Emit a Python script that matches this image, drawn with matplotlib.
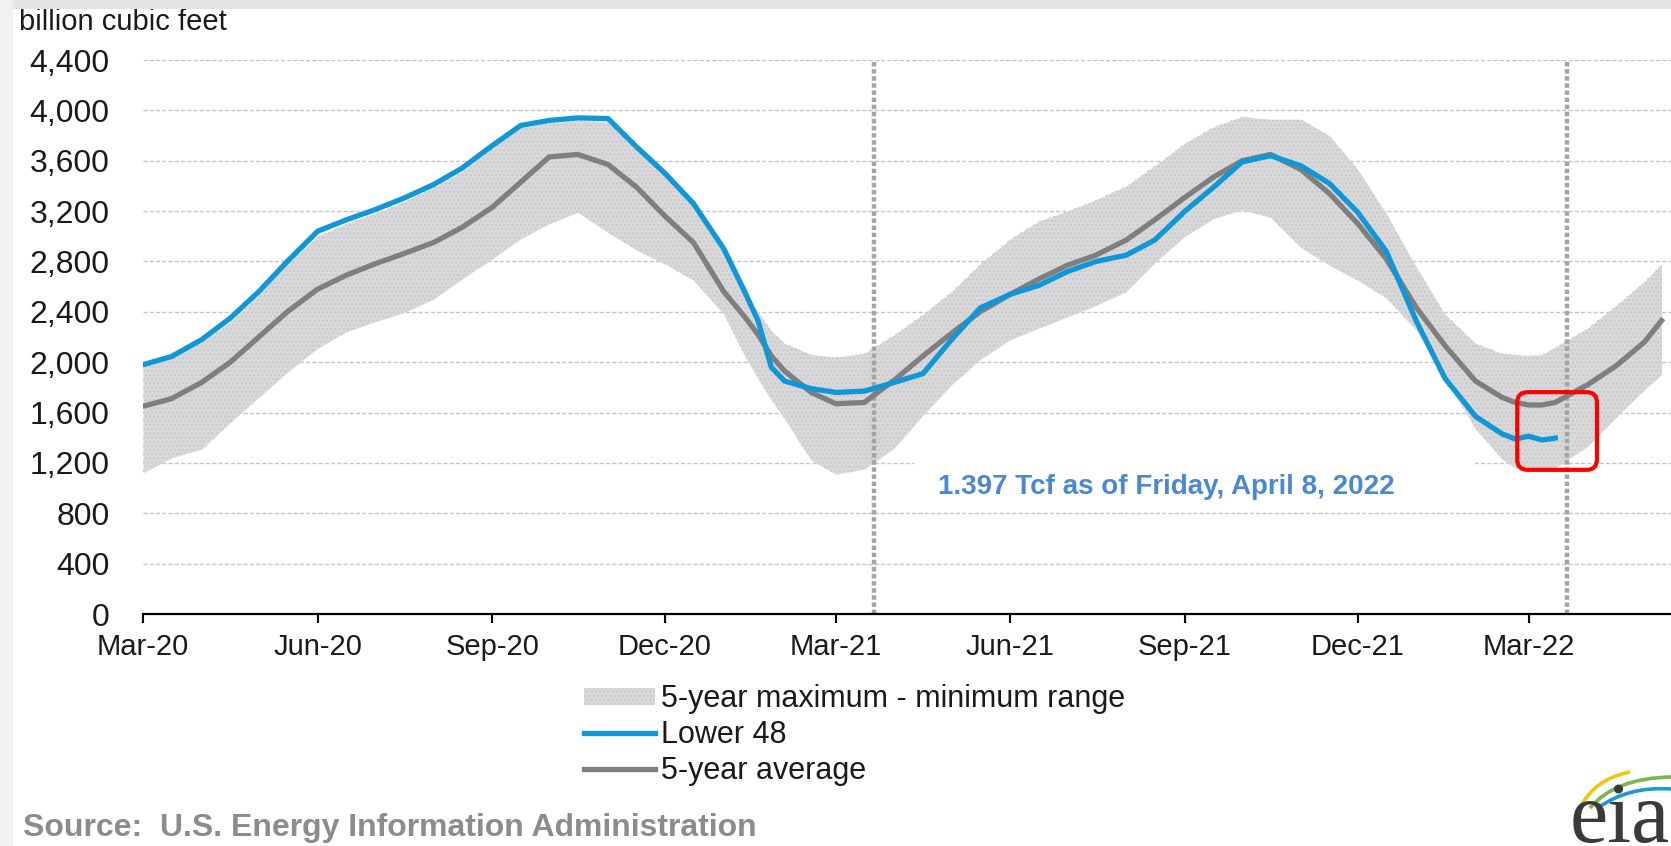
import matplotlib
matplotlib.use('Agg')
import numpy as np
import pandas as pd
import matplotlib.pyplot as plt
import matplotlib.dates as mdates
import matplotlib.ticker as mticker
from matplotlib.patches import Patch, FancyBboxPatch, Rectangle, PathPatch
from matplotlib.lines import Line2D
from matplotlib.path import Path

plt.rcParams['font.family'] = ['Liberation Sans', 'DejaVu Sans']

# weekly storage, billion cubic feet
dates = pd.to_datetime([
    '2020-03-25', '2020-04-09', '2020-04-25', '2020-05-10', '2020-05-25', '2020-06-09',
    '2020-06-25', '2020-07-10', '2020-07-25', '2020-08-09', '2020-08-25', '2020-09-09',
    '2020-09-25', '2020-10-10', '2020-10-25', '2020-11-09', '2020-11-25', '2020-12-10',
    '2020-12-25', '2021-01-09', '2021-01-25', '2021-02-05', '2021-02-12', '2021-02-19',
    '2021-02-26', '2021-03-12', '2021-03-25', '2021-04-09', '2021-04-25', '2021-05-10',
    '2021-05-25', '2021-06-09', '2021-06-25', '2021-07-10', '2021-07-25', '2021-08-09',
    '2021-08-25', '2021-09-09', '2021-09-25', '2021-10-10', '2021-10-25', '2021-11-09',
    '2021-11-25', '2021-12-10', '2021-12-25', '2022-01-09', '2022-01-25', '2022-02-09',
    '2022-02-25', '2022-03-11', '2022-03-18', '2022-03-25', '2022-04-01', '2022-04-08',
    '2022-04-25', '2022-05-10', '2022-05-25', '2022-06-03'])

lower48 = [1980, 2045, 2180, 2350, 2560, 2800, 3040, 3130, 3210, 3300, 3410, 3540,
           3720, 3880, 3920, 3940, 3935, 3710, 3500, 3260, 2900, 2560, 2330, 1960,
           1850, 1790, 1760, 1770, 1840, 1910, 2180, 2430, 2540, 2610, 2720, 2800,
           2850, 2970, 3200, 3390, 3590, 3640, 3560, 3420, 3190, 2880, 2320, 1870,
           1570, 1430, 1390, 1412, 1382, 1397,
           np.nan, np.nan, np.nan, np.nan]

avg5 = [1650, 1710, 1840, 2000, 2200, 2400, 2580, 2690, 2780, 2860, 2950, 3070,
        3230, 3430, 3630, 3650, 3570, 3390, 3160, 2950, 2560, 2360, 2220, 2050,
        1930, 1760, 1670, 1680, 1860, 2050, 2230, 2400, 2540, 2660, 2770, 2850,
        2970, 3130, 3310, 3470, 3600, 3650, 3530, 3340, 3100, 2820, 2430, 2130,
        1850, 1720, 1680, 1660, 1660, 1680, 1820, 1970, 2160, 2330]

max5 = [1970, 2030, 2160, 2320, 2530, 2780, 3000, 3100, 3180, 3270, 3390, 3510,
        3700, 3860, 3900, 3920, 3910, 3690, 3480, 3250, 2880, 2540, 2400, 2250,
        2150, 2060, 2040, 2070, 2220, 2380, 2560, 2780, 2980, 3120, 3200, 3290,
        3400, 3560, 3740, 3870, 3950, 3930, 3930, 3800, 3530, 3180, 2750, 2380,
        2150, 2070, 2060, 2055, 2060, 2120, 2270, 2450, 2640, 2780]

min5 = [1120, 1240, 1310, 1520, 1720, 1920, 2110, 2240, 2320, 2390, 2500, 2660,
        2820, 2980, 3100, 3190, 3030, 2890, 2780, 2650, 2380, 2050, 1870, 1700,
        1550, 1220, 1110, 1150, 1320, 1580, 1820, 2020, 2180, 2270, 2360, 2450,
        2560, 2790, 3000, 3140, 3210, 3150, 2910, 2770, 2650, 2510, 2250, 1870,
        1470, 1230, 1160, 1140, 1140, 1160, 1330, 1560, 1780, 1900]

tick_dates = pd.to_datetime(['2020-03-25', '2020-06-25', '2020-09-25', '2020-12-25',
                             '2021-03-25', '2021-06-25', '2021-09-25', '2021-12-25',
                             '2022-03-25'])
tick_labels = ['Mar-20', 'Jun-20', 'Sep-20', 'Dec-20', 'Mar-21', 'Jun-21',
               'Sep-21', 'Dec-21', 'Mar-22']
report_weeks = pd.to_datetime(['2021-04-14', '2022-04-14'])

blue = '#0f97d8'
grey = '#7f7f7f'
band = '#d9d9d9'

fig = plt.figure(figsize=(16.71, 8.46), dpi=100)
ax = fig.add_axes([143 / 1671, 1 - 614 / 846, 1 - 143 / 1671, (614 - 60) / 846])

ax.fill_between(dates, min5, max5, color=band, lw=0, zorder=1)
ax.fill_between(dates, min5, max5, facecolor='none', edgecolor='#c9c7cf',
                hatch='....', lw=0, zorder=1)
for d in report_weeks:
    ax.axvline(d, color='#a4a4a4', lw=3.2, ls=(0, (1.0, 0.6)), zorder=2)
ax.plot(dates, avg5, color=grey, lw=3.8, zorder=3, solid_joinstyle='round')
ax.plot(dates, lower48, color=blue, lw=3.8, zorder=4, solid_joinstyle='round')

# white label box under the note
x0 = mdates.date2num(pd.Timestamp('2021-05-05'))
x1 = mdates.date2num(pd.Timestamp('2022-02-25'))
ax.add_patch(Rectangle((x0, 860), x1 - x0, 355, fc='white', ec='none', zorder=1.5))
ax.text(pd.Timestamp('2021-09-15'), 1008, '1.397 Tcf as of Friday, April 8, 2022',
        color='#4a88d4', fontsize=20, fontweight='bold', ha='center', va='center',
        zorder=5)

# red highlight box
r0 = mdates.date2num(pd.Timestamp('2022-03-19'))
r1 = mdates.date2num(pd.Timestamp('2022-04-30'))
ax.add_patch(FancyBboxPatch((r0, 1145), r1 - r0, 1762 - 1145,
                            boxstyle='round,pad=0,rounding_size=5.5',
                            mutation_aspect=15, fill=False, ec='#ff0000',
                            lw=3, zorder=6))

ax.set_ylim(0, 4400)
ax.set_xlim(pd.Timestamp('2020-03-25'), pd.Timestamp('2022-06-08'))
ax.set_yticks(range(0, 4401, 400))
ax.yaxis.set_major_formatter(mticker.FuncFormatter(lambda v, p: f'{int(v):,}'))
ax.set_xticks(tick_dates)
ax.set_xticklabels(tick_labels)
ax.yaxis.grid(True, color='#c6c4cc', lw=1, ls=(0, (3, 1.5)))
ax.set_axisbelow(True)
for s in ['left', 'right', 'top']:
    ax.spines[s].set_visible(False)
ax.spines['bottom'].set_linewidth(1.6)
ax.spines['bottom'].set_color('black')
ax.tick_params(axis='y', length=0, pad=24, labelsize=23, labelcolor='#1a1a1a')
ax.tick_params(axis='x', length=6.5, width=1.5, pad=7, labelsize=21,
               labelcolor='#1a1a1a', direction='out')

fig.text(19 / 1671, 1 - 22 / 846, 'billion cubic feet', fontsize=21,
         color='#1a1a1a', ha='left', va='center')

handles = [Patch(facecolor=band, edgecolor='#c9c7cf', hatch='....', lw=0),
           Line2D([], [], color=blue, lw=3.8),
           Line2D([], [], color=grey, lw=3.8)]
labels = ['5-year maximum - minimum range', 'Lower 48', '5-year average']
fig.legend(handles, labels, loc='center left',
           bbox_to_anchor=(584 / 1671, 1 - 735 / 846), frameon=False,
           fontsize=22, handlelength=2.32, handleheight=0.45, handletextpad=0.2,
           labelspacing=0.19, borderpad=0, borderaxespad=0, labelcolor='#1a1a1a')

fig.text(23 / 1671, 1 - 828 / 846, 'Source:  U.S. Energy Information Administration',
         fontsize=23, fontweight='bold', color='#8c8c8c', ha='left', va='center')

# overlay in pixel units for the page edges and the logo
ov = fig.add_axes([0, 0, 1, 1], zorder=5)
ov.set_xlim(0, 1671)
ov.set_ylim(846, 0)
ov.axis('off')
ov.patch.set_alpha(0)
ov.add_patch(Rectangle((0, 0), 1671, 9, fc='#e4e4e4', lw=0))
ov.add_patch(Rectangle((0, 0), 13, 846, fc='#f1f1f1', lw=0))
ov.text(1570, 842, 'eia', fontsize=62, family='Liberation Serif', color='#3a3a3a',
        ha='left', va='baseline')
arcs = [((1580, 808), (1594, 779), (1630, 772), '#f2c80f'),
        ((1590, 808), (1615, 778), (1671, 777), '#7ab648'),
        ((1598, 808), (1628, 786), (1671, 789), '#1c9ad6')]
for p0, pc, p1, c in arcs:
    ov.add_patch(PathPatch(Path([p0, pc, p1], [Path.MOVETO, Path.CURVE3, Path.CURVE3]),
                           fill=False, ec=c, lw=2.6))

fig.savefig('out.png', dpi=100, facecolor='white')
